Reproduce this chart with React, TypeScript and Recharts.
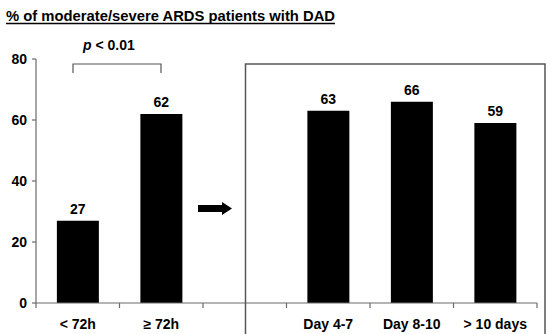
import React from 'react';
import { BarChart, Bar, XAxis, YAxis, LabelList } from 'recharts';

const categories = ['< 72h', '≥ 72h', '', 'Day 4-7', 'Day 8-10', '> 10 days'];
const dadPercent = [27, 62, null, 63, 66, 59];
const yTicks = [0, 20, 40, 60, 80];

const data = categories.map((name, i) => ({ name, value: dadPercent[i] }));

const W = 554;
const H = 334;
const margin = { top: 59, right: 17, bottom: 0, left: 0 };
const yAxisWidth = 36;
const band = (W - margin.left - margin.right - yAxisWidth) / categories.length;
const font = '"Liberation Sans", Arial, sans-serif';
const axisGray = '#6b6b6b';

// excel-style ticks: marks sit between categories, label in the middle
function CategoryTick(props: any) {
  const { x, y, payload, index } = props;
  const left = x - band / 2;
  const isLast = index === categories.length - 1;
  return (
    <g>
      <line x1={left} x2={left} y1={y} y2={y + 5} stroke={axisGray} strokeWidth={1.2} />
      {isLast && <line x1={x + band / 2} x2={x + band / 2} y1={y} y2={y + 5} stroke={axisGray} strokeWidth={1.2} />}
      <text x={x} y={y + 26} textAnchor="middle" fontFamily={font} fontWeight="bold" fontSize={14} fill="#000">
        {payload.value}
      </text>
    </g>
  );
}

export default function App() {
  return (
    <div style={{ position: 'absolute', left: 0, top: 0, width: W, height: H, background: '#fff' }}>
      <div style={{ position: 'absolute', left: 0, top: 0 }}>
        <BarChart width={W} height={H} data={data} margin={margin} barCategoryGap="25%">
          <XAxis
            dataKey="name"
            interval={0}
            height={31}
            stroke={axisGray}
            strokeWidth={1.2}
            tickLine={false}
            tickSize={0}
            tickMargin={0}
            tick={<CategoryTick />}
          />
          <YAxis
            domain={[0, 80]}
            ticks={yTicks}
            width={yAxisWidth}
            stroke={axisGray}
            strokeWidth={1.2}
            tickSize={4}
            tickMargin={5}
            tick={{ fill: '#000', fontFamily: font, fontWeight: 'bold', fontSize: 14 }}
          />
          <Bar dataKey="value" fill="#000" isAnimationActive={false}>
            <LabelList
              dataKey="value"
              position="top"
              offset={7}
              fill="#000"
              fontFamily={font}
              fontWeight="bold"
              fontSize={14}
            />
          </Bar>
        </BarChart>
      </div>
      <svg width={W} height={H} style={{ position: 'absolute', left: 0, top: 0, pointerEvents: 'none' }}>
        <text
          x={6}
          y={21}
          fontFamily={font}
          fontWeight="bold"
          fontSize={15.5}
          fill="#000"
          textLength={329}
          lengthAdjust="spacingAndGlyphs"
        >
          % of moderate/severe ARDS patients with DAD
        </text>
        <line x1={6} x2={335} y1={23.5} y2={23.5} stroke="#000" strokeWidth={1.5} />
        <rect x={245.5} y={64} width={299.5} height={290} fill="none" stroke="#555" strokeWidth={1.5} />
        <path d="M73 73 V64 H161 V73" fill="none" stroke="#555" strokeWidth={1.2} />
        <text x={83} y={50} fontFamily={font} fontWeight="bold" fontSize={14} fill="#000">
          <tspan fontStyle="italic">p</tspan> &lt; 0.01
        </text>
        <path d="M198 205 H222 V202 L232 208.5 L222 215 V212 H198 Z" fill="#000" />
      </svg>
    </div>
  );
}
